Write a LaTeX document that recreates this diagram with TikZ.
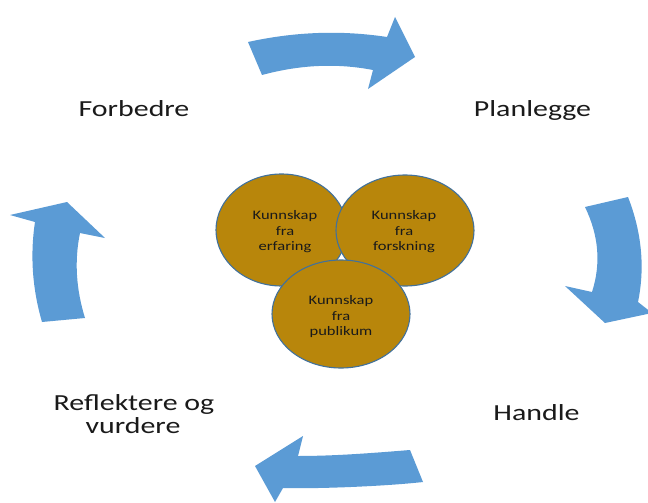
\documentclass[tikz,border=0pt]{standalone}
\usepackage{fontspec}
\newfontfamily\lblfont{Carlito}[FakeStretch=1.3]
\newfontfamily\smlfont{Carlito}[FakeStretch=1.27]
\definecolor{arrowblue}{HTML}{5B9BD5}
\definecolor{gold}{HTML}{B8860B}
\definecolor{rim}{HTML}{41719C}
\definecolor{ink}{HTML}{1A1A1A}
\tikzset{
  cyclearrow/.style={fill=arrowblue, draw=none},
  knowledge/.style={ellipse, fill=gold, draw=rim, line width=1.1pt},
  knowtext/.style={align=center, text=ink, inner sep=0pt, font=\fontsize{13}{15.5}\selectfont\smlfont},
  steplabel/.style={anchor=base, text=ink, inner sep=0pt, font=\fontsize{23}{23}\selectfont\lblfont},
}
\usetikzlibrary{shapes.geometric}
\begin{document}
\begin{tikzpicture}[x=1pt,y=-1pt]
\useasboundingbox (0,0) rectangle (648,503);
\clip (0,0) rectangle (648,503);
\fill[white] (0,0) rectangle (648,503);

% top arrow (left to right)
\path[cyclearrow] (248,42) .. controls (295,31.7) and (341,30) .. (387,37)
  -- (395,17) -- (415,57) -- (368,89) -- (373,70)
  .. controls (337,63) and (300,64.7) .. (262,75) -- cycle;
% right arrow (downwards)
\path[cyclearrow] (585,207) -- (628,197) .. controls (642,233) and (645,268) .. (638,302)
  -- (652,313) -- (605,323) -- (565,286) -- (592,292)
  .. controls (601,264) and (599,236) .. (585,207) -- cycle;
% bottom arrow (right to left)
\path[cyclearrow] (410,450) .. controls (373,453) and (335,456) .. (298,456)
  -- (303,436) -- (255,466) -- (275,502) -- (283,488)
  .. controls (320,489) and (388,486) .. (423,482) -- cycle;
% left arrow (upwards)
\path[cyclearrow] (42,322) -- (85,318) .. controls (76,289) and (74.3,260.7) .. (80,233)
  -- (105,238) -- (67,202) -- (10,215) -- (35,222)
  .. controls (30,255) and (32.3,288.7) .. (42,322) -- cycle;

% knowledge ellipses
\node[knowledge, minimum width=131pt, minimum height=112pt] (erf) at (281.5,230) {};
\node[knowledge, minimum width=138pt, minimum height=111pt] (fors) at (405,230.5) {};
\node[knowledge, minimum width=138pt, minimum height=108pt] (pub) at (341,314) {};
\node[knowtext] (erft) at (285,232) {Kunnskap\\fra\\erfaring};
\node[knowtext] (forst) at (404,232) {Kunnskap\\fra\\forskning};
\node[knowtext] (pubt) at (341,317) {Kunnskap\\fra\\publikum};

% step labels
\node[steplabel] (forb) at (134,117) {Forbedre};
\node[steplabel] (plan) at (532.5,117) {Planlegge};
\node[steplabel] (refl) at (134,410) {Reflektere og};
\node[steplabel] (vurd) at (133,433) {vurdere};
\node[steplabel] (hand) at (536.5,420) {Handle};
\end{tikzpicture}
\end{document}
